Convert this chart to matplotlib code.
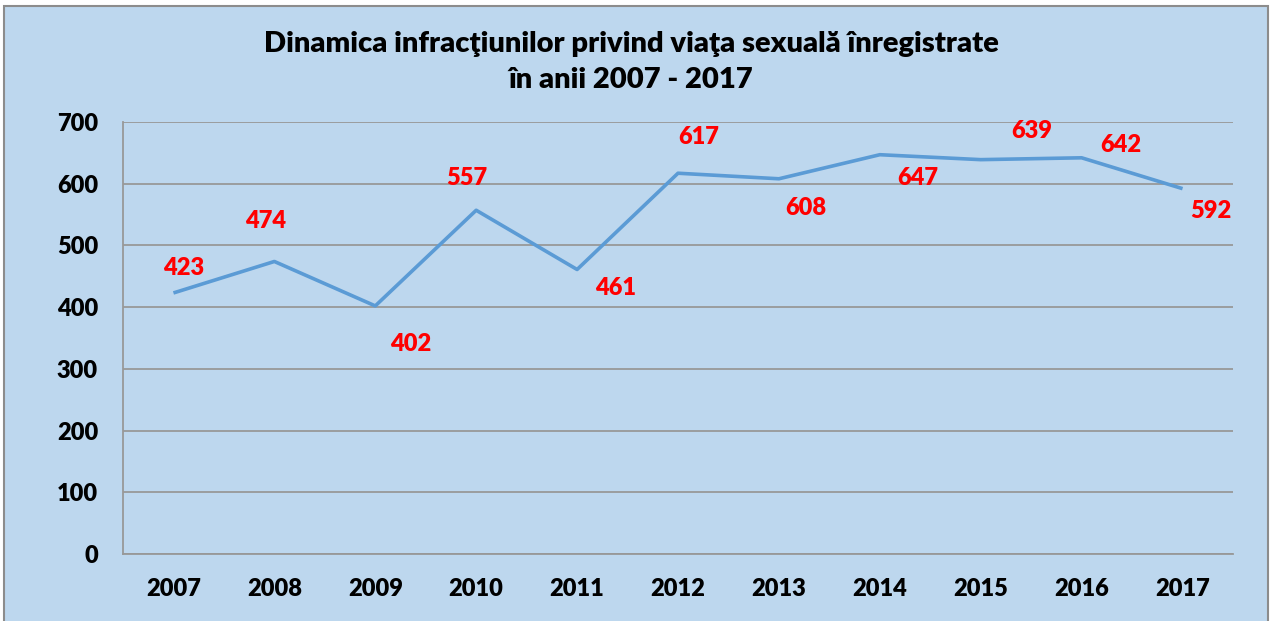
import matplotlib.pyplot as plt
from matplotlib.patches import Rectangle

plt.rcParams['font.family'] = ['Lato', 'DejaVu Sans']

years = ['2007', '2008', '2009', '2010', '2011', '2012', '2013', '2014', '2015', '2016', '2017']
cases = [423, 474, 402, 557, 461, 617, 608, 647, 639, 642, 592]
# label offsets in pixels from the point (as placed in the original)
label_dx = [10, -9, 35, -9, 38, 21, 27, 38, 51, 39, 28]
label_dy = [25, 40, -38, 32, -19, 36, -29, -23, 29, 13, -22]

W, H = 1273, 621
fig = plt.figure(figsize=(W / 100, H / 100), dpi=100)
fig.patch.set_facecolor('white')

bg = '#BDD7EE'
fig.patches.append(Rectangle((4 / W, -0.05), 1264 / W, 1.05 - 6 / H,
                             transform=fig.transFigure, facecolor=bg,
                             edgecolor='#8C8C8C', linewidth=1.5, zorder=-1))

ax = fig.add_axes([123 / W, 67 / H, 1110 / W, 432 / H])
ax.set_facecolor(bg)

x = list(range(len(years)))
ax.plot(x, cases, color='#5B9BD5', linewidth=2.6, solid_capstyle='butt', zorder=3)

for i, v in enumerate(cases):
    ax.annotate(str(v), (i, v), xytext=(label_dx[i] * 0.72, label_dy[i] * 0.72),
                textcoords='offset points', ha='center', va='center',
                color='#FF0000', fontsize=17, fontweight='heavy', zorder=4)

ax.set_xlim(-0.5, len(years) - 0.5)
ax.set_ylim(0, 700)
ax.set_yticks(range(0, 701, 100))
ax.set_xticks(x)
ax.set_xticklabels(years)
ax.yaxis.grid(True, color='#989898', linewidth=1.3)
ax.set_axisbelow(True)

for s in ['top', 'right']:
    ax.spines[s].set_visible(False)
ax.spines['left'].set_color('#989898')
ax.spines['bottom'].set_color('#989898')
ax.spines['left'].set_linewidth(1.3)
ax.spines['bottom'].set_linewidth(1.3)
ax.tick_params(length=0, labelsize=17)
for lab in ax.get_xticklabels() + ax.get_yticklabels():
    lab.set_fontweight('heavy')
ax.tick_params(axis='y', pad=18)
ax.tick_params(axis='x', pad=17)

fig.text(631 / W, 1 - 44 / H, 'Dinamica infracţiunilor privind viaţa sexuală înregistrate',
         ha='center', va='center', fontsize=21, fontweight='heavy')
fig.text(631 / W, 1 - 80 / H, 'în anii 2007 - 2017',
         ha='center', va='center', fontsize=21, fontweight='heavy')

fig.savefig('out.png', dpi=100, facecolor=fig.get_facecolor())
